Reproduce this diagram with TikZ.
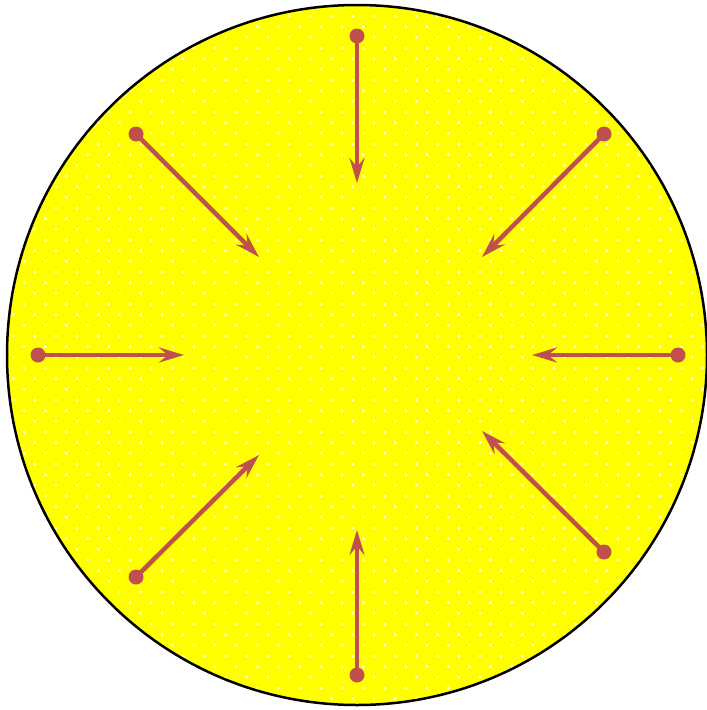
\documentclass[tikz,border=0pt]{standalone}
\usetikzlibrary{arrows.meta}
\definecolor{sun}{RGB}{255,255,0}
\definecolor{arr}{RGB}{192,80,77}
\tikzset{
  ray/.style={draw=arr, line width=4.5pt, -{Stealth[length=25pt,width=15pt,inset=9pt]}},
  src/.style={circle, fill=arr, inner sep=0pt, minimum size=15pt}
}
\begin{document}
\begin{tikzpicture}[x=1pt,y=-1pt]
\useasboundingbox (0,0) rectangle (707,710);
\node[circle, draw=black, line width=2.5pt, fill=sun, minimum size=700pt, inner sep=0pt] (disk) at (357,355) {};
\begin{scope}
\clip (357,355) circle (348.5pt);
\foreach \j in {0,...,33}{
  \foreach \i in {0,...,34}{
    \fill[white] ({3+21.2*\i},{-16+21.33*\j}) circle (1.4pt);
    \fill[white] ({13.6+21.2*\i},{-5.3+21.33*\j}) circle (1.4pt);
  }
}
\end{scope}
\node[src] (sN) at (357,36) {};
\node[src] (sW) at (38,355) {};
\node[src] (sE) at (678,355) {};
\node[src] (sS) at (357,675) {};
\node[src] (sNW) at (136,134) {};
\node[src] (sNE) at (604,134) {};
\node[src] (sSW) at (136,577) {};
\node[src] (sSE) at (604,552) {};
\coordinate (tN) at (357,183);
\coordinate (tW) at (184,355);
\coordinate (tE) at (532,355);
\coordinate (tS) at (357,530);
\coordinate (tNW) at (259,257);
\coordinate (tNE) at (482,257);
\coordinate (tSW) at (259,455);
\coordinate (tSE) at (482,431);
\foreach \d in {N,W,E,S,NW,NE,SW,SE}{
  \draw[ray] (s\d.center) -- (t\d);
}
\end{tikzpicture}
\end{document}
